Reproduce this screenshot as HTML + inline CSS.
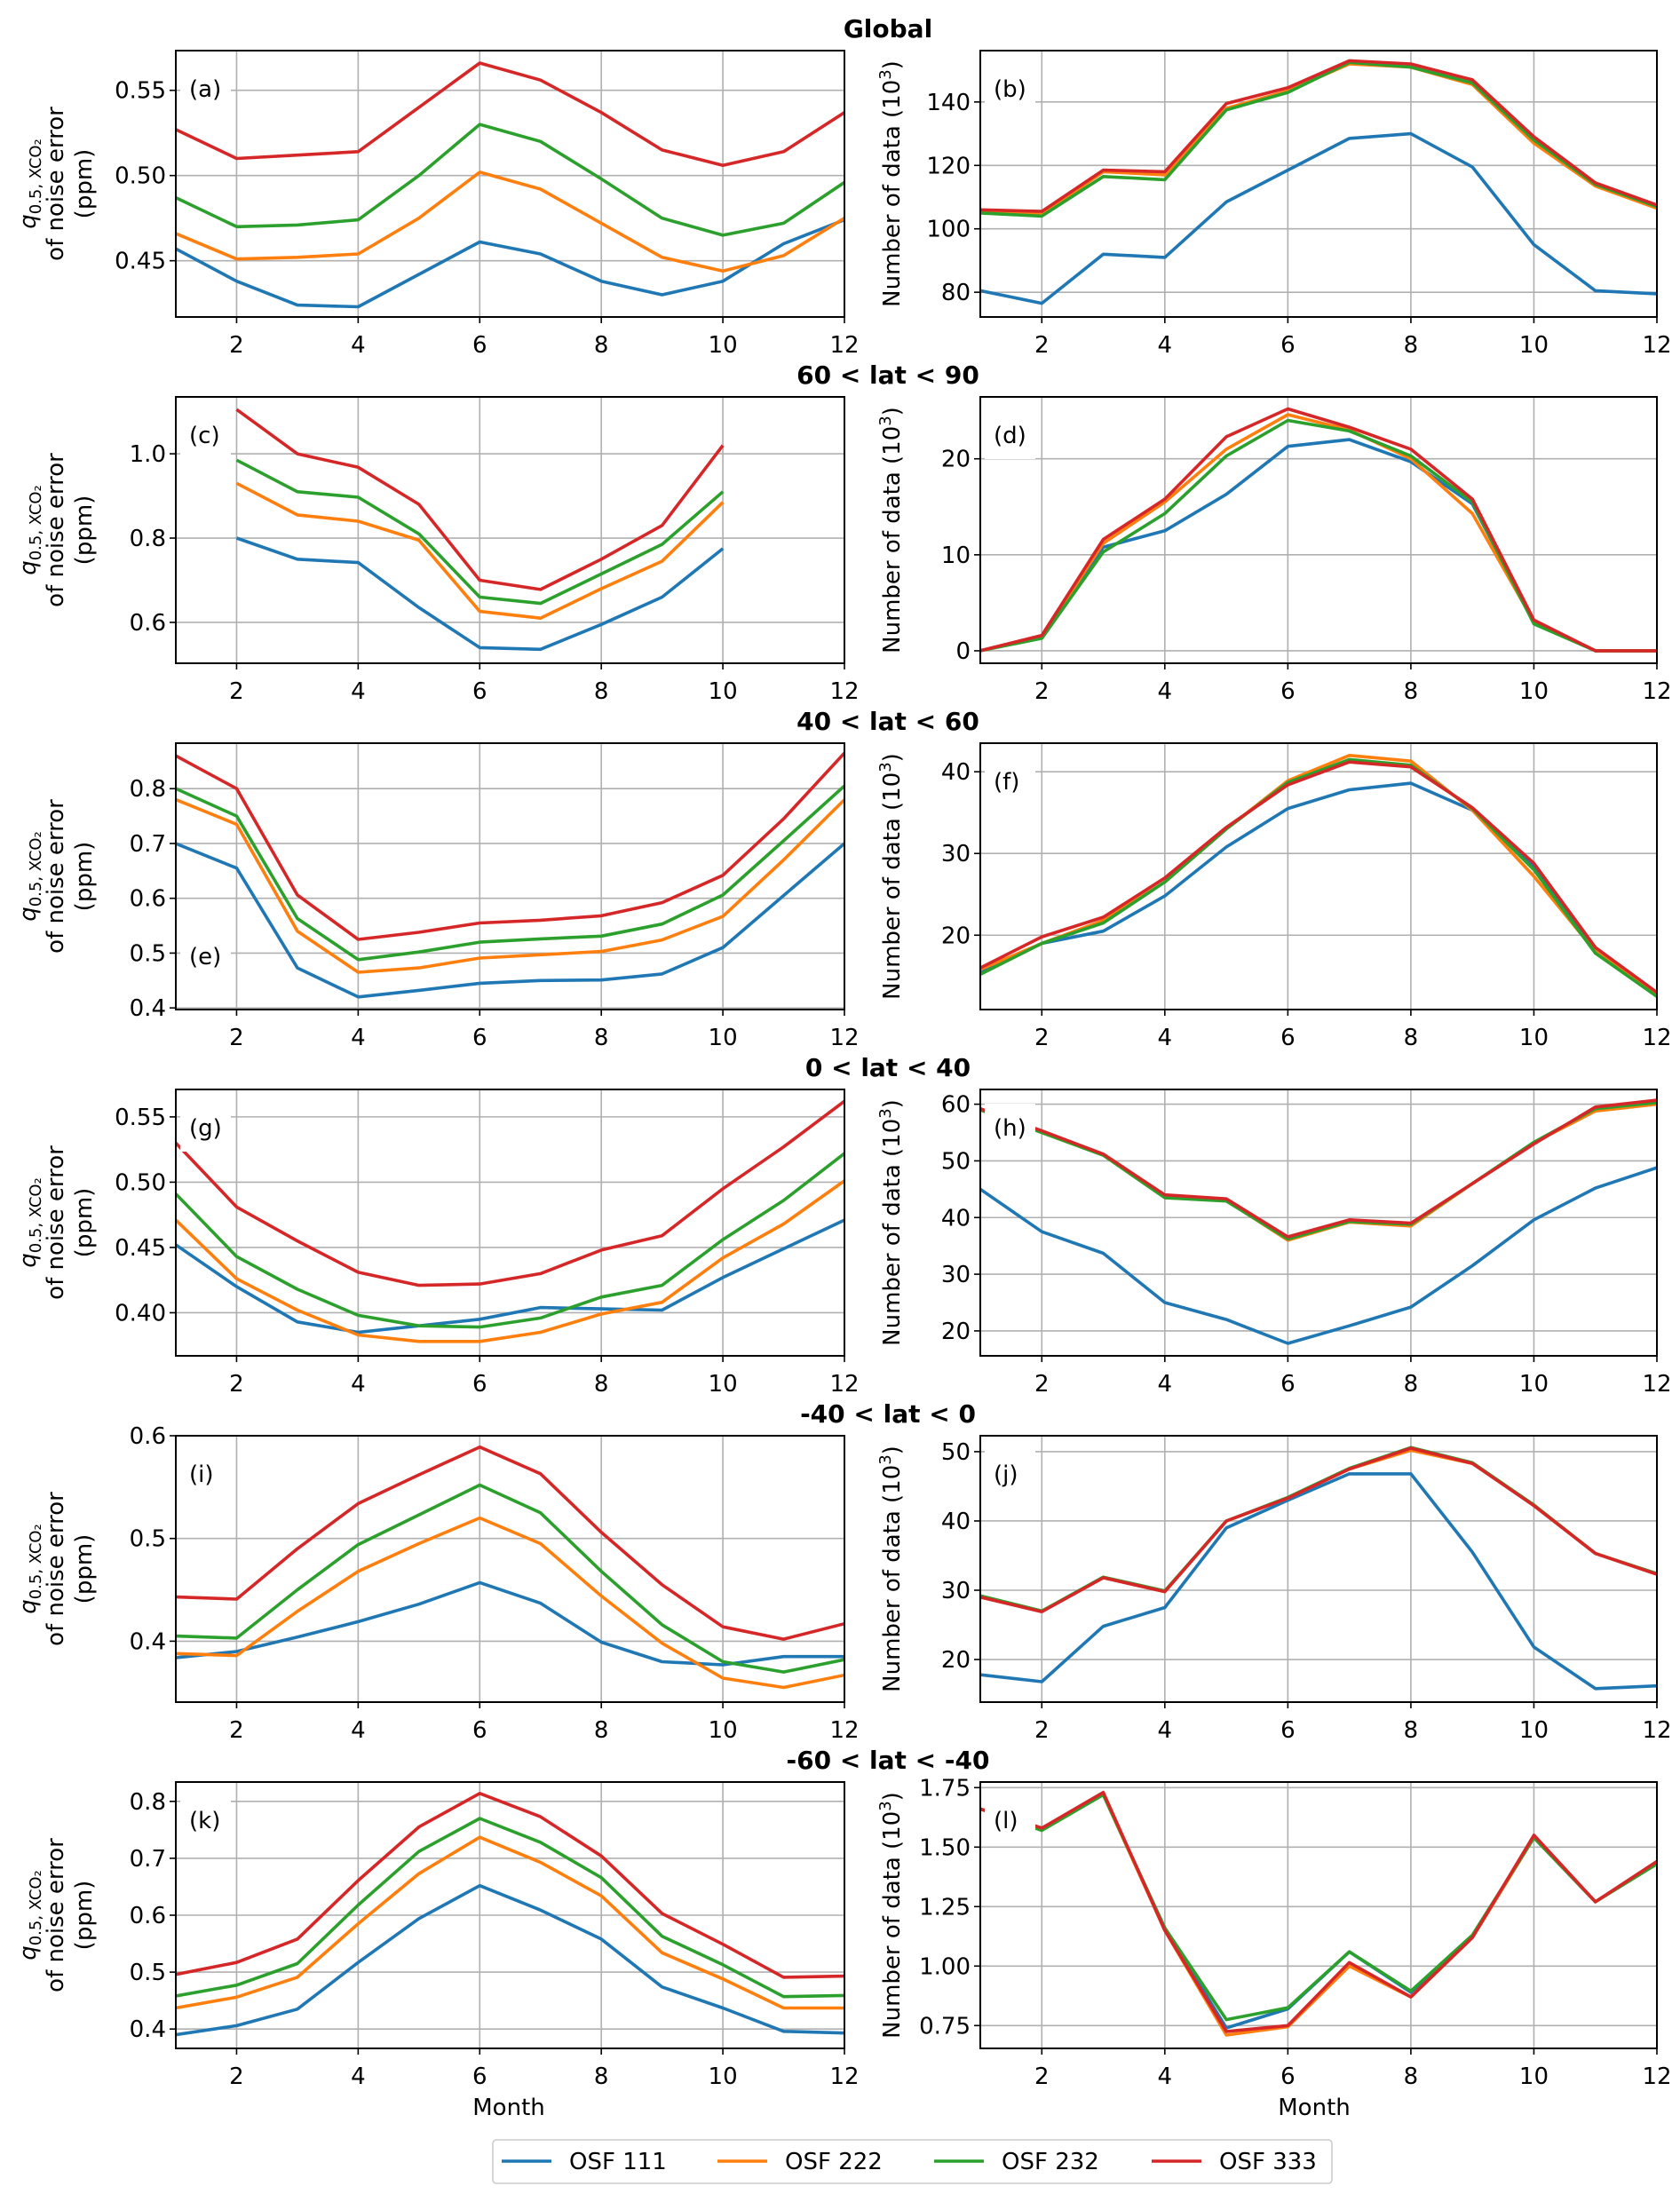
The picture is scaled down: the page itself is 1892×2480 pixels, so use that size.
<!DOCTYPE html>
<html><head><meta charset="utf-8"><title>Noise error and number of data by latitude band</title>
<style>
html,body{margin:0;padding:0;background:#fff;}
svg{display:block;font-family:"DejaVu Sans","Liberation Sans",sans-serif;}
</style></head>
<body>
<svg id="fig" width="1892" height="2480" viewBox="0 0 1892 2480" xmlns="http://www.w3.org/2000/svg"></svg>
<script>
// ---------- data ----------
const months = [1,2,3,4,5,6,7,8,9,10,11,12];
const seriesNames = ["OSF 111","OSF 222","OSF 232","OSF 333"];
const regionTitles = ["Global","60 < lat < 90","40 < lat < 60","0 < lat < 40","-40 < lat < 0","-60 < lat < -40"];

const aOSF111 = [.457,.438,.424,.423,.442,.461,.454,.438,.430,.438,.460,.474];
const aOSF222 = [.466,.451,.452,.454,.475,.502,.492,.472,.452,.444,.453,.475];
const aOSF232 = [.487,.470,.471,.474,.500,.530,.520,.498,.475,.465,.472,.496];
const aOSF333 = [.527,.510,.512,.514,.540,.566,.556,.537,.515,.506,.514,.537];
const aTicks = [0.45,0.50,0.55];
const aTickLabels = ["0.45","0.50","0.55"];

const bOSF111 = [80.5,76.5,92,91,108.5,118.5,128.5,130,119.5,95,80.5,79.5];
const bOSF222 = [105.5,104.5,118,117,138,143.5,152,151,145.5,127,113.5,106.5];
const bOSF232 = [105,104,116.5,115.5,137.5,143,152.5,151,146,128,114,107];
const bOSF333 = [106,105.5,118.5,118,139.5,144.5,153,152,147,129,114.5,107.5];
const bTicks = [80,100,120,140];
const bTickLabels = ["80","100","120","140"];

const cOSF111 = [null,.80,.75,.742,.635,.54,.536,.595,.66,.775,null,null];
const cOSF222 = [null,.93,.855,.84,.795,.626,.61,.68,.745,.885,null,null];
const cOSF232 = [null,.985,.91,.897,.81,.66,.645,.715,.785,.91,null,null];
const cOSF333 = [null,1.105,1.0,.968,.88,.70,.678,.75,.83,1.02,null,null];
const cTicks = [0.6,0.8,1.0];
const cTickLabels = ["0.6","0.8","1.0"];

const dOSF111 = [0,1.5,10.8,12.5,16.3,21.3,22,19.7,15.3,3,0,0];
const dOSF222 = [0,1.5,11.2,15.5,21,24.6,23,20,14.3,3,0,0];
const dOSF232 = [0,1.3,10.3,14.3,20.3,24,22.9,20.3,15.5,2.8,0,0];
const dOSF333 = [0,1.6,11.6,15.8,22.3,25.2,23.3,21,15.8,3.2,0,0];
const dTicks = [0,10,20];
const dTickLabels = ["0","10","20"];

const eOSF111 = [.70,.655,.473,.42,.432,.445,.45,.451,.462,.51,.605,.70];
const eOSF222 = [.78,.735,.54,.465,.473,.491,.497,.503,.524,.567,.67,.78];
const eOSF232 = [.80,.75,.563,.488,.502,.52,.526,.531,.553,.606,.705,.805];
const eOSF333 = [.86,.80,.606,.525,.538,.555,.56,.568,.592,.642,.745,.865];
const eTicks = [0.4,0.5,0.6,0.7,0.8];
const eTickLabels = ["0.4","0.5","0.6","0.7","0.8"];

const fOSF111 = [15.5,19,20.5,24.8,30.8,35.5,37.8,38.6,35.3,28.5,18,12.8];
const fOSF222 = [15.8,19,21.8,26.5,33,38.9,42,41.3,35.3,27.2,18,12.8];
const fOSF232 = [15.2,19,21.5,26.5,33,38.7,41.5,40.8,35.5,28,17.8,12.5];
const fOSF333 = [16,19.8,22.2,27,33.2,38.4,41.2,40.6,35.6,28.8,18.5,13];
const fTicks = [20,30,40];
const fTickLabels = ["20","30","40"];

const gOSF111 = [.452,.420,.393,.385,.390,.395,.404,.403,.402,.427,.449,.471];
const gOSF222 = [.471,.426,.402,.383,.378,.378,.385,.399,.408,.442,.468,.501];
const gOSF232 = [.491,.443,.418,.398,.390,.389,.396,.412,.421,.456,.486,.522];
const gOSF333 = [.530,.481,.455,.431,.421,.422,.430,.448,.459,.495,.527,.562];
const gTicks = [0.40,0.45,0.50,0.55];
const gTickLabels = ["0.40","0.45","0.50","0.55"];

const hOSF111 = [45,37.5,33.7,25,22,17.8,20.9,24.2,31.5,39.6,45.2,48.8];
const hOSF222 = [59,55,51,43.5,43,36,39.2,38.5,46,53.2,58.8,60];
const hOSF232 = [59,55,51,43.5,42.9,36.2,39.3,38.8,46,53.3,59.2,60.3];
const hOSF333 = [59.2,55.3,51.2,44,43.3,36.6,39.6,39,46,53,59.5,60.7];
const hTicks = [20,30,40,50,60];
const hTickLabels = ["20","30","40","50","60"];

const iOSF111 = [.384,.390,.404,.419,.436,.457,.437,.399,.380,.377,.385,.385];
const iOSF222 = [.388,.386,.429,.468,.495,.520,.495,.444,.398,.364,.355,.367];
const iOSF232 = [.405,.403,.450,.494,.523,.552,.525,.468,.416,.380,.370,.382];
const iOSF333 = [.443,.441,.490,.534,.562,.589,.563,.506,.455,.414,.402,.417];
const iTicks = [0.4,0.5,0.6];
const iTickLabels = ["0.4","0.5","0.6"];

const jOSF111 = [17.8,16.8,24.8,27.5,39,43,46.8,46.8,35.5,21.8,15.8,16.2];
const jOSF222 = [29,27,31.8,29.8,40,43.3,47.5,50.2,48.3,42.3,35.3,32.3];
const jOSF232 = [29.2,27,31.9,29.9,40,43.4,47.6,50.6,48.4,42.3,35.3,32.4];
const jOSF333 = [29,26.9,31.8,29.8,40,43.3,47.5,50.5,48.3,42.2,35.3,32.3];
const jTicks = [20,30,40,50];
const jTickLabels = ["20","30","40","50"];

const kOSF111 = [.390,.406,.435,.517,.594,.652,.609,.558,.474,.437,.396,.393];
const kOSF222 = [.437,.456,.491,.585,.673,.737,.693,.634,.534,.488,.437,.437];
const kOSF232 = [.458,.477,.515,.618,.712,.770,.728,.666,.563,.513,.457,.459];
const kOSF333 = [.496,.517,.558,.661,.755,.814,.773,.704,.603,.549,.491,.493];
const kTicks = [0.4,0.5,0.6,0.7,0.8];
const kTickLabels = ["0.4","0.5","0.6","0.7","0.8"];

const lOSF111 = [1.66,1.58,1.72,1.16,0.74,0.82,1.06,0.89,1.12,1.54,1.27,1.43];
const lOSF222 = [1.66,1.58,1.72,1.15,0.71,0.745,1.00,0.87,1.12,1.54,1.27,1.43];
const lOSF232 = [1.66,1.57,1.72,1.16,0.775,0.825,1.06,0.895,1.13,1.54,1.27,1.43];
const lOSF333 = [1.66,1.58,1.73,1.15,0.725,0.75,1.015,0.87,1.12,1.55,1.27,1.44];
const lTicks = [0.75,1.00,1.25,1.50,1.75];
const lTickLabels = ["0.75","1.00","1.25","1.50","1.75"];

const xTicks = [2,4,6,8,10,12];
const xTickLabels = ["2","4","6","8","10","12"];

// ---------- layout ----------
const NS = "http://www.w3.org/2000/svg";
const svg = document.getElementById("fig");
const colors = ["#1f77b4","#ff7f0e","#2ca02c","#d62728"];
const rowTops = [57,447,837,1227,1617,2007];
const PH = 300;
const LX0 = 198, LX1 = 951, RX0 = 1104, RX1 = 1866;

function mk(tag, attrs, parent){
  const el = document.createElementNS(NS, tag);
  for (const k in attrs) el.setAttribute(k, attrs[k]);
  (parent||svg).appendChild(el);
  return el;
}

const panels = [
  {id:"a", series:[aOSF111,aOSF222,aOSF232,aOSF333], ymin:0.417, ymax:0.5733, ticks:aTicks, labels:aTickLabels, row:0, side:0, labY:43},
  {id:"b", series:[bOSF111,bOSF222,bOSF232,bOSF333], ymin:72.2, ymax:156.2, ticks:bTicks, labels:bTickLabels, row:0, side:1, labY:43},
  {id:"c", series:[cOSF111,cOSF222,cOSF232,cOSF333], ymin:0.503, ymax:1.135, ticks:cTicks, labels:cTickLabels, row:1, side:0, labY:43},
  {id:"d", series:[dOSF111,dOSF222,dOSF232,dOSF333], ymin:-1.3, ymax:26.45, ticks:dTicks, labels:dTickLabels, row:1, side:1, labY:43},
  {id:"e", series:[eOSF111,eOSF222,eOSF232,eOSF333], ymin:0.397, ymax:0.883, ticks:eTicks, labels:eTickLabels, row:2, side:0, labY:240},
  {id:"f", series:[fOSF111,fOSF222,fOSF232,fOSF333], ymin:10.9, ymax:43.5, ticks:fTicks, labels:fTickLabels, row:2, side:1, labY:43},
  {id:"g", series:[gOSF111,gOSF222,gOSF232,gOSF333], ymin:0.367, ymax:0.571, ticks:gTicks, labels:gTickLabels, row:3, side:0, labY:43},
  {id:"h", series:[hOSF111,hOSF222,hOSF232,hOSF333], ymin:15.6, ymax:62.6, ticks:hTicks, labels:hTickLabels, row:3, side:1, labY:43},
  {id:"i", series:[iOSF111,iOSF222,iOSF232,iOSF333], ymin:0.3407, ymax:0.6, ticks:iTicks, labels:iTickLabels, row:4, side:0, labY:43},
  {id:"j", series:[jOSF111,jOSF222,jOSF232,jOSF333], ymin:13.85, ymax:52.3, ticks:jTicks, labels:jTickLabels, row:4, side:1, labY:43},
  {id:"k", series:[kOSF111,kOSF222,kOSF232,kOSF333], ymin:0.366, ymax:0.834, ticks:kTicks, labels:kTickLabels, row:5, side:0, labY:43},
  {id:"l", series:[lOSF111,lOSF222,lOSF232,lOSF333], ymin:0.654, ymax:1.7735, ticks:lTicks, labels:lTickLabels, row:5, side:1, labY:43}
];

// titles
regionTitles.forEach((t,r)=>{
  const el = mk("text",{x:1000,y:rowTops[r]-15,"text-anchor":"middle","font-size":28,"font-weight":"bold",fill:"#000"});
  el.textContent = t;
  
  
});

panels.forEach(p=>{
  const x0 = p.side ? RX0 : LX0, x1 = p.side ? RX1 : LX1;
  const top = rowTops[p.row], bot = top + PH;
  const xs = m => x0 + (m-1)/(11)*(x1-x0);
  const ys = v => bot - (v-p.ymin)/(p.ymax-p.ymin)*PH;

  const g = mk("g",{});
  
  

  // grid
  xTicks.forEach(t=>{
    const ln = mk("line",{x1:xs(t),x2:xs(t),y1:top,y2:bot,stroke:"#b0b0b0","stroke-width":1.6},g);
    
    
  });
  p.ticks.forEach(t=>{
    const ln = mk("line",{x1:x0,x2:x1,y1:ys(t),y2:ys(t),stroke:"#b0b0b0","stroke-width":1.6},g);
    
    
  });

  // clip
  const cp = mk("clipPath",{id:"clip-"+p.id},g);
  mk("rect",{x:x0,y:top,width:x1-x0,height:PH},cp);

  // series lines
  p.series.forEach((arr,si)=>{
    let d = "", pen = false;
    arr.forEach((v,i)=>{
      if (v===null){ pen=false; return; }
      d += (pen ? "L" : "M") + xs(months[i]).toFixed(1) + "," + ys(v).toFixed(1);
      pen = true;
    });
    const path = mk("path",{d:d,fill:"none",stroke:colors[si],"stroke-width":3.6,"stroke-linejoin":"round","clip-path":"url(#clip-"+p.id+")"},g);
    
    
  });

  // panel label with white box
  const ly = top + p.labY;
  const box = mk("rect",{x:x0+5,y:ly-27,width:57,height:54,fill:"#fff"},g);
  
  
  const lab = mk("text",{x:x0+15,y:ly+9,"font-size":26,fill:"#000"},g);
  lab.textContent = "(" + p.id + ")";
  
  

  // spines
  const fr = mk("rect",{x:x0,y:top,width:x1-x0,height:PH,fill:"none",stroke:"#000","stroke-width":2},g);
  
  

  // x ticks
  xTicks.forEach((t,i)=>{
    mk("line",{x1:xs(t),x2:xs(t),y1:bot,y2:bot+7,stroke:"#000","stroke-width":1.6},g);
    const tx = mk("text",{x:xs(t),y:bot+40,"text-anchor":"middle","font-size":26,fill:"#000"},g);
    tx.textContent = xTickLabels[i];
    
    
  });
  // y ticks
  p.ticks.forEach((t,i)=>{
    mk("line",{x1:x0-7,x2:x0,y1:ys(t),y2:ys(t),stroke:"#000","stroke-width":1.6},g);
    const ty = mk("text",{x:x0-11,y:ys(t)+9,"text-anchor":"end","font-size":26,fill:"#000"},g);
    ty.textContent = p.labels[i];
    
    
  });

  // y-axis titles
  const cy = top + PH/2;
  if (p.side===0){
    const yt = mk("text",{transform:"translate(0,"+cy+") rotate(-90)","text-anchor":"middle","font-size":26,fill:"#000"},g);
    
    
    const t1 = mk("tspan",{x:0,y:40},yt);
    const q = mk("tspan",{"font-style":"italic"},t1); q.textContent = "q";
    const sub = mk("tspan",{"font-size":18,dy:6},t1); sub.textContent = "0.5, XCO₂";
    const t2 = mk("tspan",{x:0,y:71},yt); t2.textContent = "of noise error";
    const t3 = mk("tspan",{x:0,y:103},yt); t3.textContent = "(ppm)";
  } else {
    const yt = mk("text",{transform:"translate(1013,"+cy+") rotate(-90)","text-anchor":"middle","font-size":26,fill:"#000"},g);
    
    
    const a = mk("tspan",{},yt); a.textContent = "Number of data (10";
    const s = mk("tspan",{"font-size":18,dy:-10},yt); s.textContent = "3";
    const c = mk("tspan",{dy:10},yt); c.textContent = ")";
  }
});

// Month labels
[[573],[1480]].forEach(([x])=>{
  const t = mk("text",{x:x,y:2382,"text-anchor":"middle","font-size":26,fill:"#000"});
  t.textContent = "Month";
  
  
});

// legend
const lg = mk("g",{});


mk("rect",{x:555,y:2410,width:945,height:49,rx:4,fill:"#fff",stroke:"#cccccc","stroke-width":1.6},lg);
const legX = [565,808,1052,1297];
seriesNames.forEach((n,i)=>{
  const e = mk("g",{},lg);
  
  
  mk("line",{x1:legX[i],x2:legX[i]+56,y1:2434,y2:2434,stroke:colors[i],"stroke-width":3.6},e);
  const t = mk("text",{x:legX[i]+76,y:2443,"font-size":26,fill:"#000"},e);
  t.textContent = n;
});
</script>
</body></html>
